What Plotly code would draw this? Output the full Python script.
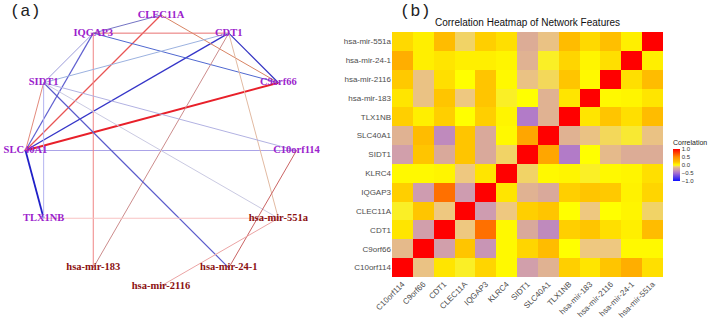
import math
import plotly.graph_objects as go

# ---------------- data ----------------
features = ["C10orf114", "C9orf66", "CDT1", "CLEC11A", "IQGAP3", "KLRC4", "SIDT1",
            "SLC40A1", "TLX1NB", "hsa-mir-183", "hsa-mir-2116", "hsa-mir-24-1", "hsa-mir-551a"]

# correlation rows, listed bottom (C10orf114) to top (hsa-mir-551a); columns in `features` order
corr_C10orf114 = [1.00, -0.12, 0.08, -0.03, 0.13, 0.02, -0.28, -0.18, 0.15, 0.08, 0.18, 0.30, 0.10]
corr_C9orf66   = [-0.15, 1.00, -0.28, 0.18, -0.33, 0.02, 0.13, 0.22, 0.00, -0.10, -0.10, 0.02, 0.02]
corr_CDT1      = [0.08, -0.28, 1.00, -0.10, 0.60, 0.02, -0.22, -0.38, 0.15, 0.18, 0.10, 0.05, 0.22]
corr_CLEC11A   = [-0.03, 0.18, -0.10, 1.00, -0.30, -0.10, 0.15, 0.18, 0.00, -0.10, 0.00, 0.03, -0.08]
corr_IQGAP3    = [0.15, -0.30, 0.60, -0.30, 1.00, 0.08, -0.18, -0.22, 0.15, 0.18, 0.17, 0.04, 0.13]
corr_KLRC4     = [0.02, 0.02, 0.03, -0.10, 0.08, 1.00, -0.08, 0.02, 0.03, -0.03, 0.02, 0.03, 0.10]
corr_SIDT1     = [-0.28, 0.18, -0.22, 0.18, -0.22, -0.08, 1.00, 0.35, -0.45, 0.00, -0.15, -0.20, -0.20]
corr_SLC40A1   = [-0.18, 0.22, -0.38, 0.18, -0.22, 0.02, 0.35, 1.00, -0.18, -0.12, -0.07, -0.04, -0.12]
corr_TLX1NB    = [0.15, 0.05, 0.15, 0.00, 0.15, 0.03, -0.45, -0.18, 1.00, 0.08, 0.18, 0.10, 0.22]
corr_mir183    = [0.08, -0.12, 0.18, -0.10, 0.18, -0.03, 0.00, -0.18, 0.08, 1.00, 0.02, 0.03, 0.08]
corr_mir2116   = [0.17, -0.12, 0.10, 0.00, 0.18, 0.02, -0.12, -0.07, 0.18, 0.02, 1.00, 0.10, 0.22]
corr_mir24_1   = [0.30, 0.05, 0.08, 0.05, 0.05, 0.03, -0.18, -0.03, 0.13, 0.03, 0.10, 1.00, 0.05]
corr_mir551a   = [0.12, 0.05, 0.22, -0.08, 0.15, 0.10, -0.20, -0.12, 0.22, 0.12, 0.20, 0.05, 1.00]

# network nodes in circular order (starting at top, going counter-clockwise)
net_nodes = ["CLEC11A", "IQGAP3", "SIDT1", "SLC40A1", "TLX1NB", "hsa-mir-183",
             "hsa-mir-2116", "hsa-mir-24-1", "hsa-mir-551a", "C10orf114", "C9orf66", "CDT1"]
net_mirna = ["hsa-mir-183", "hsa-mir-2116", "hsa-mir-24-1", "hsa-mir-551a"]

# edges: (node a, node b, colour, width)
net_edges = [
    ("SLC40A1", "C9orf66", "#E8202A", 2.0),
    ("SLC40A1", "TLX1NB", "#2020C8", 1.8),
    ("CDT1", "SLC40A1", "#3535C8", 1.4),
    ("IQGAP3", "SLC40A1", "#6060D0", 1.2),
    ("CLEC11A", "SLC40A1", "#E85555", 1.2),
    ("SIDT1", "SLC40A1", "#E38A7C", 1.0),
    ("SLC40A1", "C10orf114", "#ABA3E8", 1.2),
    ("IQGAP3", "CLEC11A", "#7474C4", 1.0),
    ("IQGAP3", "CDT1", "#E87070", 1.0),
    ("IQGAP3", "C9orf66", "#5068D0", 1.0),
    ("IQGAP3", "SIDT1", "#9C9CDA", 1.0),
    ("IQGAP3", "hsa-mir-183", "#F08484", 1.0),
    ("CLEC11A", "C9orf66", "#D88464", 1.0),
    ("CDT1", "C9orf66", "#3232C2", 1.1),
    ("CDT1", "SIDT1", "#9CB2E0", 1.0),
    ("CDT1", "hsa-mir-183", "#CC8C8C", 1.0),
    ("CDT1", "hsa-mir-551a", "#E2BAA2", 1.0),
    ("SIDT1", "TLX1NB", "#B4B4F0", 1.0),
    ("SIDT1", "hsa-mir-24-1", "#5A5ACC", 1.2),
    ("SIDT1", "C10orf114", "#B2B2E2", 1.0),
    ("SIDT1", "hsa-mir-551a", "#CACAE2", 1.0),
    ("C10orf114", "hsa-mir-24-1", "#CA6464", 1.0),
    ("hsa-mir-551a", "hsa-mir-2116", "#EBA4A4", 1.0),
    ("TLX1NB", "hsa-mir-551a", "#F8C2C2", 1.2),
]

# ---------------- layout helpers ----------------
W, H = 708, 322
NET_W = 330
cx, cy, rad = 161, 150.5, 135.5

pos = {}
for k, name in enumerate(net_nodes):
    ang = math.radians(90 + 30 * k)
    pos[name] = (cx + rad * math.cos(ang), cy - rad * math.sin(ang))

fig = go.Figure()

for a, b, col, w in net_edges:
    fig.add_trace(go.Scatter(
        x=[pos[a][0], pos[b][0]], y=[pos[a][1], pos[b][1]], mode="lines",
        line=dict(color=col, width=w), hoverinfo="skip", showlegend=False,
        xaxis="x", yaxis="y"))

fig.add_trace(go.Scatter(
    x=[pos[n][0] for n in net_nodes], y=[pos[n][1] for n in net_nodes],
    mode="text", text=[n for n in net_nodes],
    textfont=dict(family="Liberation Serif, DejaVu Serif, serif", size=10.5,
                  color=["#8B1010" if n in net_mirna else "#9B22CC" for n in net_nodes],
                  weight="bold"),
    textposition="middle center", showlegend=False, hoverinfo="skip",
    xaxis="x", yaxis="y"))

# heatmap
z = [corr_C10orf114, corr_C9orf66, corr_CDT1, corr_CLEC11A, corr_IQGAP3, corr_KLRC4,
     corr_SIDT1, corr_SLC40A1, corr_TLX1NB, corr_mir183, corr_mir2116, corr_mir24_1, corr_mir551a]

colorscale = [
    [0.00, "#1010FF"],
    [0.25, "#A870D0"],
    [0.35, "#CE9CB0"],
    [0.40, "#DCAC96"],
    [0.45, "#EEC880"],
    [0.50, "#FFFF00"],
    [0.60, "#FFBF00"],
    [0.75, "#FF8C00"],
    [1.00, "#FF0000"],
]

hx0, hx1, hy0, hy1 = 392, 663, 32, 277
fig.add_trace(go.Heatmap(
    z=z, x=features, y=features, zmin=-1, zmax=1, colorscale=colorscale,
    xaxis="x2", yaxis="y2", hoverongaps=False,
    colorbar=dict(
        title=dict(text="Correlation", side="top",
                   font=dict(family="Liberation Sans, Arial", size=7, color="#222")),
        x=673 / W, xanchor="left", y=(H - 137) / H, yanchor="top",
        lenmode="pixels", len=44, thicknessmode="pixels", thickness=7,
        outlinewidth=0, tickvals=[1, 0.5, 0, -0.5, -1],
        ticktext=["1.0", "0.5", "0.0", "\u22120.5", "\u22121.0"],
        tickfont=dict(family="Liberation Sans, Arial", size=6, color="#333"),
        ticks="", xpad=0, ypad=0)))

fig.update_layout(
    width=W, height=H, margin=dict(l=0, r=0, t=0, b=0, autoexpand=False),
    paper_bgcolor="white", plot_bgcolor="white",
    xaxis=dict(domain=[0, NET_W / W], range=[0, NET_W], visible=False, fixedrange=True),
    yaxis=dict(domain=[0, 1], range=[H, 0], visible=False, fixedrange=True),
    xaxis2=dict(domain=[hx0 / W, hx1 / W], anchor="y2", tickangle=-45, showgrid=False,
                zeroline=False, ticks="", automargin=False,
                tickfont=dict(family="Liberation Sans, Arial", size=8, color="#4D4D4D")),
    yaxis2=dict(domain=[(H - hy1) / H, (H - hy0) / H], anchor="x2", showgrid=False,
                zeroline=False, ticks="", automargin=False,
                tickfont=dict(family="Liberation Sans, Arial", size=8, color="#4D4D4D")),
    annotations=[
        dict(text="(a)", x=8 / W, y=1 - 11 / H, xref="paper", yref="paper", showarrow=False,
             xanchor="left", yanchor="middle",
             font=dict(family="Liberation Mono, DejaVu Sans Mono, monospace", size=17, color="#222")),
        dict(text="(b)", x=398 / W, y=1 - 11 / H, xref="paper", yref="paper", showarrow=False,
             xanchor="left", yanchor="middle",
             font=dict(family="Liberation Mono, DejaVu Sans Mono, monospace", size=17, color="#222")),
        dict(text="Correlation Heatmap of Network Features", x=(hx0 + hx1) / 2 / W,
             y=1 - 23 / H, xref="paper", yref="paper", showarrow=False,
             xanchor="center", yanchor="middle",
             font=dict(family="Liberation Sans, Arial", size=10, color="#111")),
    ],
)

fig.write_html("out.html", config={"displayModeBar": False},
               post_script="document.body.style.margin='0';document.body.style.overflow='hidden';")
